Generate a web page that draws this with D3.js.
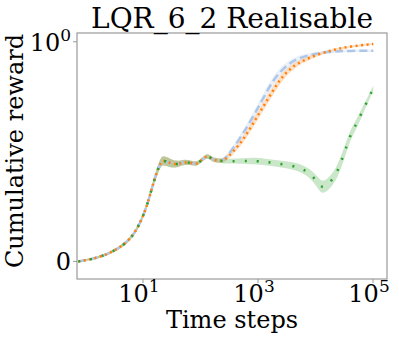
<!DOCTYPE html>
<html>
<head>
<meta charset="utf-8">
<script src="https://cdn.jsdelivr.net/npm/d3@7"></script>
<style>
body { margin: 0; background: #fff; }
text { font-family: "DejaVu Serif", serif; fill: #000; }
</style>
</head>
<body>
<svg id="chart" width="399" height="337"></svg>
<script>
// values, [time step, reward, band half width]
var shared = [[0.75,0,0.004],[1.37,0.011,0.005],[2.67,0.037,0.006],[5.2,0.083,0.008],[7.9,0.143,0.01],
  [11.7,0.248,0.012],[15,0.357,0.015],[19.8,0.449,0.02],[22.3,0.462,0.022],[29,0.449,0.02],
  [39,0.44,0.015],[49,0.453,0.012],[71,0.449,0.01],[90,0.44,0.01],[130,0.49,0.01],[160,0.462,0.01],
  [200,0.46,0.01],[250,0.455,0.01]]
var blueTail = [[372,0.516,0.012],[555,0.584,0.015],[828,0.66,0.018],[1236,0.744,0.02],[1845,0.827,0.02],
  [2754,0.88,0.018],[4710,0.926,0.012],[10490,0.948,0.008],[20400,0.956,0.006],[39800,0.959,0.005],[101000,0.959,0.005]]
var orangeTail = [[372,0.5,0.012],[555,0.554,0.015],[828,0.63,0.018],[1236,0.705,0.02],[1845,0.781,0.02],
  [2754,0.85,0.018],[4710,0.903,0.012],[10490,0.941,0.008],[20400,0.964,0.006],[39800,0.979,0.005],[101000,0.99,0.005]]
var greenTail = [[777,0.458,0.015],[1236,0.455,0.015],[1976,0.447,0.015],[3290,0.44,0.016],[5370,0.427,0.018],
  [8020,0.402,0.02],[10900,0.36,0.025],[12800,0.335,0.028],[16000,0.345,0.028],[22700,0.394,0.028],
  [27400,0.449,0.028],[32600,0.503,0.026],[38700,0.563,0.024],[45400,0.599,0.022],[67700,0.69,0.018],[101000,0.789,0.012]]

var xTicks = [10, 1000, 100000]
var xTickExp = ["1", "3", "5"]
var yTicks = [0, 1]

var series = [
  {name: "blue", data: shared.concat(blueTail), color: "#aec7e8", dash: "8,4", width: 2.5},
  {name: "orange", data: shared.concat(orangeTail), color: "#ff7f0e", dash: "2,3.5", width: 2.5},
  {name: "green", data: shared.concat(greenTail), color: "#2ca02c", dash: "2,10", width: 2.5}
]

var svg = d3.select("#chart")
var mLeft = 77, mRight = 387, mTop = 33, mBottom = 279

var x = d3.scaleLog().domain([Math.pow(10, -0.148), Math.pow(10, 5.243)]).range([mLeft, mRight])
var y = d3.scaleLinear().domain([-0.08, 1.04]).range([mBottom, mTop])

var g = svg.append("g")

// shaded bands
var area = d3.area()
  .curve(d3.curveBasis)
  .x(function(d){ return x(d[0]) })
  .y0(function(d){ return y(d[1] - d[2]) })
  .y1(function(d){ return y(d[1] + d[2]) })

series.forEach(function(s){
  g.append("path")
    .attr("d", area(s.data))
    .attr("fill", s.color)
    .attr("fill-opacity", 0.25)
})

var line = d3.line()
  .curve(d3.curveBasis)
  .x(function(d){ return x(d[0]) })
  .y(function(d){ return y(d[1]) })

series.forEach(function(s){
  g.append("path")
    .attr("d", line(s.data))
    .attr("fill", "none")
    .attr("stroke", s.color)
    .attr("stroke-width", s.width)
    .attr("stroke-dasharray", s.dash)
})

// frame
svg.append("rect")
  .attr("x", mLeft).attr("y", mTop)
  .attr("width", mRight - mLeft).attr("height", mBottom - mTop)
  .attr("fill", "none").attr("stroke", "#999").attr("stroke-width", 1.2)

// x ticks
xTicks.forEach(function(t, i){
  var px = x(t)
  svg.append("line").attr("x1", px).attr("x2", px).attr("y1", mBottom).attr("y2", mBottom + 4)
    .attr("stroke", "#999")
  var tx = svg.append("text").attr("x", px - 4).attr("y", mBottom + 23)
    .attr("text-anchor", "middle").style("font-size", "24px")
  tx.append("tspan").text("10")
  tx.append("tspan").text(xTickExp[i]).attr("dy", -10).style("font-size", "17px")
})

// y ticks
yTicks.forEach(function(v){
  var py = y(v)
  svg.append("line").attr("x1", mLeft - 4).attr("x2", mLeft).attr("y1", py).attr("y2", py)
    .attr("stroke", "#999")
  var ty = svg.append("text").attr("x", mLeft - 6).attr("y", py + 9)
    .attr("text-anchor", "end").style("font-size", "24px")
  if (v == 0) {
    ty.text("0")
  } else {
    ty.append("tspan").text("10")
    ty.append("tspan").text("0").attr("dy", -10).style("font-size", "17px")
  }
})

svg.append("text").attr("x", 232).attr("y", 28).attr("text-anchor", "middle")
  .style("font-size", "28px").text("LQR_6_2 Realisable")
svg.append("text").attr("x", 232).attr("y", 328).attr("text-anchor", "middle")
  .style("font-size", "24px").text("Time steps")
svg.append("text").attr("transform", "translate(23,151) rotate(-90)").attr("text-anchor", "middle")
  .style("font-size", "24px").text("Cumulative reward")
</script>
</body>
</html>
